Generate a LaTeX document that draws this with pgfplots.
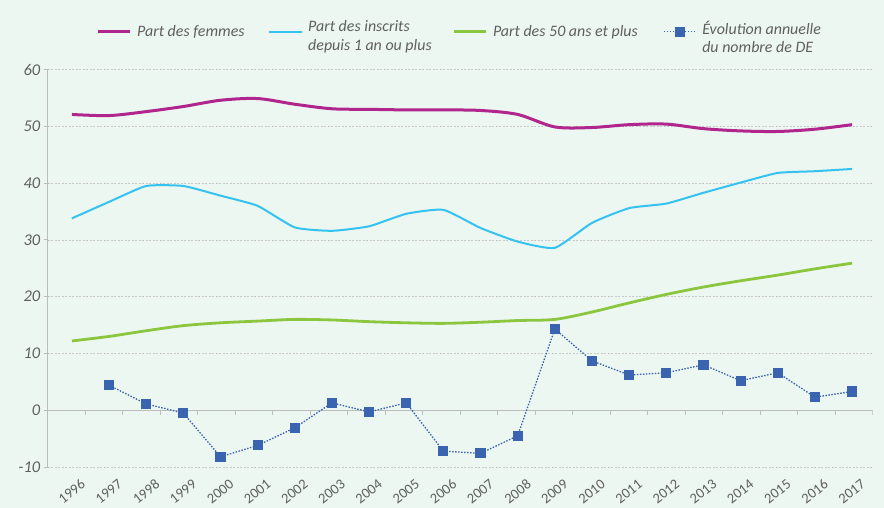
\documentclass[border=0pt]{standalone}
\usepackage{fontspec}
\setmainfont{Carlito}
\usepackage{pgfplots}
\usepackage{pgfplotstable}
\pgfplotsset{compat=1.18}

\definecolor{fond}{RGB}{237,247,242}
\definecolor{femmes}{RGB}{176,38,140}
\definecolor{inscrits}{RGB}{52,195,240}
\definecolor{seniors}{RGB}{140,198,63}
\definecolor{de}{RGB}{58,100,176}
\definecolor{txt}{RGB}{95,95,95}
\definecolor{grille}{RGB}{200,200,200}
\definecolor{axe}{RGB}{188,188,188}

% parts (en %)
\pgfplotstableread{
annee femmes inscrits seniors
1996 52.1 33.8 12.2
1997 51.9 36.7 13.0
1998 52.6 39.5 14.0
1999 53.5 39.5 14.9
2000 54.6 37.8 15.4
2001 54.9 36.0 15.7
2002 53.9 32.2 16.0
2003 53.1 31.6 15.9
2004 53.0 32.4 15.6
2005 52.9 34.6 15.4
2006 52.9 35.3 15.3
2007 52.8 32.1 15.5
2008 52.1 29.7 15.8
2009 49.9 28.6 16.0
2010 49.8 33.0 17.3
2011 50.3 35.6 18.9
2012 50.4 36.4 20.4
2013 49.6 38.3 21.7
2014 49.2 40.1 22.8
2015 49.1 41.8 23.8
2016 49.5 42.1 24.9
2017 50.3 42.5 25.9
}\parts

% evolution annuelle du nombre de DE (en %)
\pgfplotstableread{
annee evol
1997 4.4
1998 1.1
1999 -0.5
2000 -8.2
2001 -6.2
2002 -3.1
2003 1.3
2004 -0.3
2005 1.3
2006 -7.2
2007 -7.6
2008 -4.5
2009 14.3
2010 8.7
2011 6.2
2012 6.6
2013 8.0
2014 5.2
2015 6.6
2016 2.3
2017 3.3
}\evol

\begin{document}
\begin{tikzpicture}
\fill[fond] (0,0) rectangle (884bp,508bp);
\useasboundingbox (0,0) rectangle (884bp,508bp);
\begin{axis}[
  at={(47.7bp,41bp)}, anchor=south west,
  scale only axis, width=825bp, height=397.4bp,
  xmin=-0.6514, xmax=21.556,
  ymin=-10, ymax=60,
  axis x line*=bottom, axis y line*=left,
  axis line style={-},
  x axis line style={draw=none},
  y axis line style={axe, line width=1bp},
  xtick={0,...,21},
  xticklabels={1996,1997,1998,1999,2000,2001,2002,2003,2004,2005,2006,
    2007,2008,2009,2010,2011,2012,2013,2014,2015,2016,2017},
  ytick={-10,0,...,60},
  tick align=outside,
  major tick length=4bp,
  x tick style={draw=none},
  y tick style={axe, line width=1bp},
  ymajorgrids,
  grid style={grille, line width=0.8bp, dash pattern=on 2bp off 1.5bp},
  tick label style={text=txt},
  y tick label style={font=\itshape\fontsize{16.5}{16.5}\selectfont,
    /pgf/number format/assume math mode=true, xshift=0bp},
  x tick label style={font=\fontsize{14.5}{14.5}\selectfont,
    rotate=38, anchor=north east, inner sep=0pt, yshift=-11bp, xshift=2bp},
  legend columns=4,
  legend style={at={(0.05855,1.095)}, anchor=west, draw=none, fill=none,
    inner sep=0pt, font=\itshape\fontsize{16}{18.5}\selectfont, text=txt,
    nodes={inner sep=0pt},
    /tikz/every odd column/.append style={column sep=6bp}},
  legend image code/.code={\draw[mark repeat=2,mark phase=2,#1]
    plot coordinates {(0bp,0bp) (16bp,0bp) (32bp,0bp)};},
]
\draw[axe, line width=1.4bp] (axis cs:-0.6514,0) -- (axis cs:21.556,0);
\pgfplotsinvokeforeach{1,...,22}{
  \draw[axe, line width=1bp] (axis cs:{-0.6514+1.009421*#1},0) -- (axis cs:{-0.6514+1.009421*#1},-0.88);
}
\addplot[femmes, line width=3bp, smooth] table[x expr=\thisrow{annee}-1996, y=femmes] {\parts};
\addlegendentry{\makebox[131bp][l]{Part des femmes}}
\addplot[inscrits, line width=2bp, smooth, tension=0.3] table[x expr=\thisrow{annee}-1996, y=inscrits] {\parts};
\addlegendentry{\parbox{144bp}{Part des inscrits\\depuis 1 an ou plus}}
\addplot[seniors, line width=2.8bp, smooth] table[x expr=\thisrow{annee}-1996, y=seniors] {\parts};
\addlegendentry{\makebox[170bp][l]{Part des 50 ans et plus}}
\addplot[de, line width=1.3bp, dash pattern=on 1.5bp off 1.5bp,
  mark=square*, mark size=4.4bp, mark options={solid, fill=de, draw=de}]
  table[x expr=\thisrow{annee}-1996, y=evol] {\evol};
\addlegendentry{\parbox{140bp}{Évolution annuelle\\du nombre de DE}}
\end{axis}
\end{tikzpicture}
\end{document}
